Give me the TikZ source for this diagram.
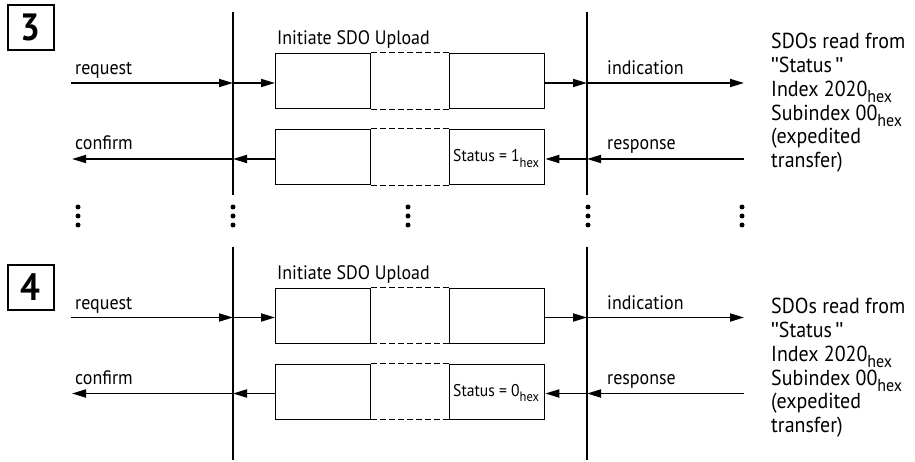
\documentclass[tikz,border=0pt]{standalone}
\usepackage{fontspec}
\usepackage{graphicx}
\setmainfont[FakeStretch=0.92]{PT Sans}
\newfontfamily\quotefont{Liberation Sans}
\usetikzlibrary{arrows.meta}
\newcommand\hexsub{\raisebox{-0.3em}{\scalebox{0.8}{hex}}}
\newcommand\dq{{\quotefont\symbol{"22}}}
\newcommand\sdorow[3]{%
  \node[sbox] (#1A1) at (275,{53+#2}) {};
  \node[sbox] (#1B1) at (449,{53+#2}) {};
  \node[sbox] (#1A2) at (275,{129+#2}) {};
  \node[sbox] (#1B2) at (449,{129+#2}) {};
  \draw[dashline] (#1A1.north east) -- (#1B1.north west);
  \draw[dashline] (#1A1.south east) -- (#1B1.south west);
  \draw[dashline] (#1A2.north east) -- (#1B2.north west);
  \draw[dashline] (#1A2.south east) -- (#1B2.south west);
  \coordinate (#1reqS) at (71,{83+#2});
  \coordinate (#1reqX) at (233,{83+#2});
  \coordinate (#1indX) at (587,{83+#2});
  \coordinate (#1indE) at (744,{83+#2});
  \coordinate (#1conE) at (72,{159+#2});
  \coordinate (#1conX) at (233,{159+#2});
  \coordinate (#1resX) at (587,{159+#2});
  \coordinate (#1resS) at (744,{159+#2});
  \draw[msg] (#1reqS) -- (#1reqX);
  \draw[msg] (#1reqX) -- (#1A1.west |- #1reqX);
  \draw[msg] (#1B1.east |- #1indX) -- (#1indX);
  \draw[msg] (#1indX) -- (#1indE);
  \draw[msg] (#1A2.west |- #1conX) -- (#1conX);
  \draw[msg] (#1conX) -- (#1conE);
  \draw[msg] (#1resS) -- (#1resX);
  \draw[msg] (#1resX) -- (#1B2.east |- #1resX);
  \node[lbl] (#1init) at (277,{46+#2-1}) {Initiate SDO Upload};
  \node[lbl] (#1req) at (75,{75+#2}) {request};
  \node[lbl] (#1con) at (75,{150+#2}) {confirm};
  \node[lbl] (#1ind) at (607,{75+#2}) {indication};
  \node[lbl] (#1res) at (607,{150+#2}) {response};
  \node[stat] (#1st) at (453,{162+#2}) {Status\ =\ #3\hexsub};
}
\begin{document}
\begin{tikzpicture}[x=1pt,y=-1pt,
  lbl/.style={font=\fontsize{19.5}{22}\selectfont, anchor=base west, inner sep=0pt},
  stat/.style={font=\fontsize{17}{19}\selectfont, anchor=base west, inner sep=0pt},
  side/.style={font=\fontsize{21.7}{23.8}\selectfont, anchor=north west, inner sep=0pt, align=left},
  numbox/.style={draw, line width=1.6pt, minimum width=46pt, minimum height=45pt, inner sep=0pt, anchor=north west, font=\fontsize{38}{40}\selectfont\bfseries},
  sbox/.style={draw, line width=1.3pt, minimum width=95pt, minimum height=55pt, inner sep=0pt, anchor=north west},
  dashline/.style={line width=1pt, dash pattern=on 6pt off 3pt},
  msg/.style={line width=1.8pt, -{Triangle[length=14pt,width=8pt]}},
  life/.style={line width=2.6pt},
  dot/.style={fill=black}]
\useasboundingbox (0,0) rectangle (915,462);
% section 3
\node[numbox] (n3) at (7,4) {3};
\coordinate (L3t) at (233,12);
\coordinate (L3b) at (233,195);
\coordinate (R3t) at (587,12);
\coordinate (R3b) at (587,195);
\draw[life] (L3t) -- (L3b);
\draw[life] (R3t) -- (R3b);
\sdorow{t}{0}{1}
\node[side] (info3) at (771,33) {SDOs read from\\\dq Status\,\dq\\Index 2020\hexsub\\Subindex 00\hexsub\\(expedited\\transfer)};
% dots
\foreach \x in {78,233,408,588,742}{
  \foreach \y in {207,216,225}{
    \fill[dot] (\x,\y) circle[radius=2.5pt];
  }
}
% section 4
\node[numbox] (n4) at (7,264) {4};
\coordinate (L4t) at (233,247);
\coordinate (L4b) at (233,460);
\coordinate (R4t) at (587,247);
\coordinate (R4b) at (587,460);
\draw[life] (L4t) -- (L4b);
\draw[life] (R4t) -- (R4b);
\sdorow{b}{234.5}{0}
\node[side] (info4) at (771,298) {SDOs read from\\\dq Status\,\dq\\Index 2020\hexsub\\Subindex 00\hexsub\\(expedited\\transfer)};
\end{tikzpicture}
\end{document}
